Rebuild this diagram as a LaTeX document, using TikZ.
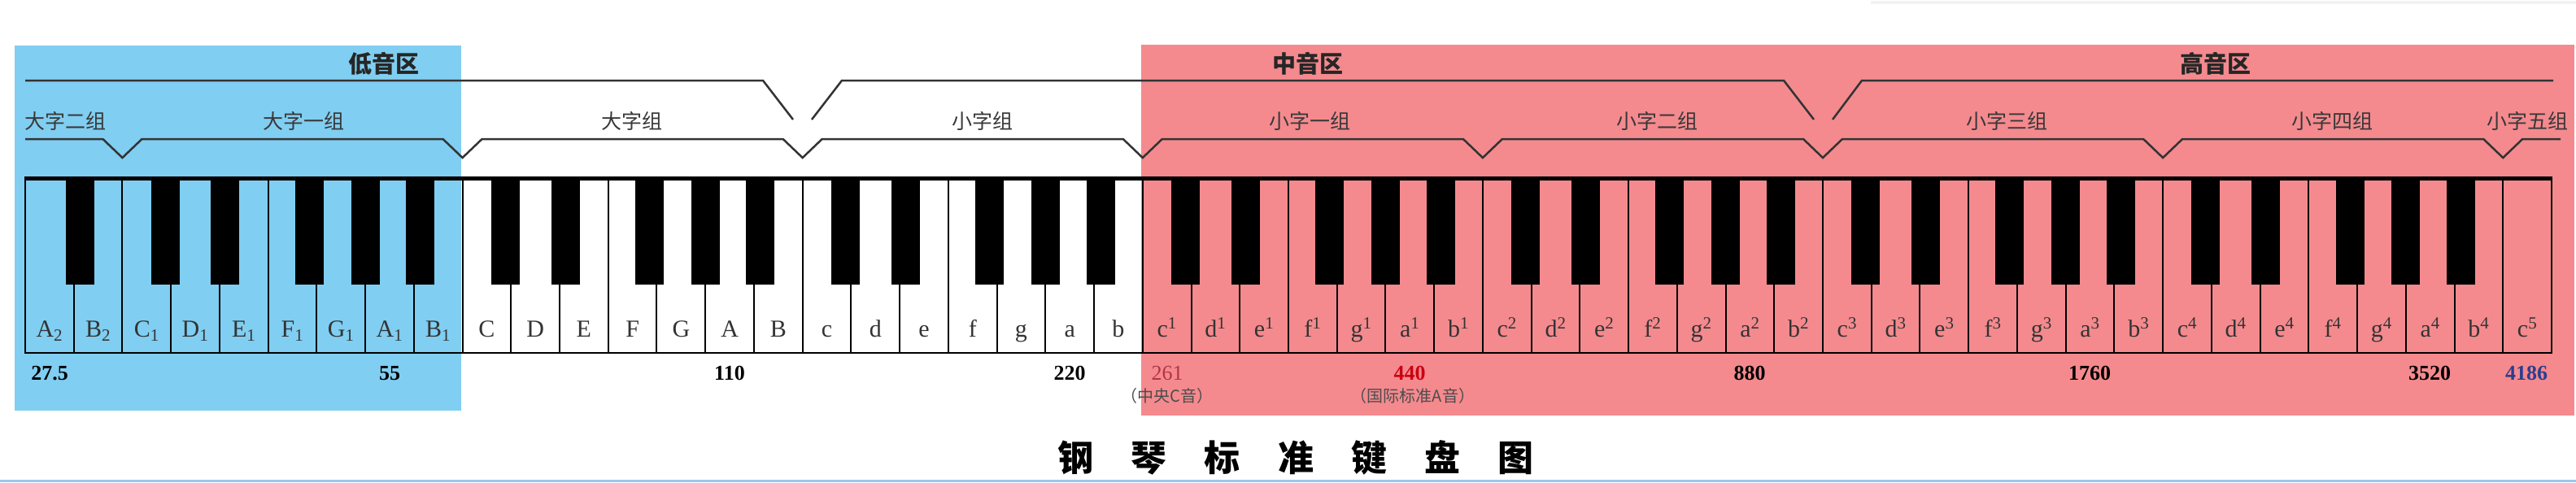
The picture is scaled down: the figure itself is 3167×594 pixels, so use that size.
\documentclass[tikz,border=0pt]{standalone}
\usepackage{fontspec}
\setmainfont{Liberation Serif}
\newfontfamily\cjk{Noto Sans CJK SC}
\definecolor{bassblue}{RGB}{128,206,241}
\definecolor{midpink}{RGB}{244,138,142}
\definecolor{midc}{RGB}{178,52,72}
\definecolor{concertA}{RGB}{204,0,16}
\definecolor{topc}{RGB}{46,61,143}
\definecolor{edgeblue}{RGB}{160,196,240}
\begin{document}
\begin{tikzpicture}[x=1pt,y=-1pt,
        zone/.style={font=\cjk\bfseries\fontsize{29}{29}\selectfont,text=black!85},
        grp/.style={font=\cjk\fontsize{25}{25}\selectfont,text=black!78},
        note/.style={anchor=base,font=\fontsize{30}{30}\selectfont,text=black!80},
        freq/.style={anchor=base,font=\bfseries\fontsize{26}{26}\selectfont},
        hint/.style={font=\cjk\fontsize{20}{20}\selectfont,text=black!70},
        brace/.style={line width=2.5pt,draw=black!80}]
    \useasboundingbox (0,0) rectangle (3167,594);
    % ranges
    \fill[bassblue] (18,56) rectangle (567,505);
    \fill[midpink] (1403,55) rectangle (3165,511);
    \draw[black!5,line width=4pt] (2300,3) -- (3167,3);
    \draw[edgeblue,line width=3pt] (0,591) -- (3167,591);
    % keys
    \foreach \i in {1,...,51}
        \draw[line width=2pt] ({31+\i*59.73},218) -- ++(0,216);
    \draw[line width=2.5pt] (31,218) rectangle (3137,434);
    \draw[line width=5pt] (31,219.5) -- (3137,219.5);
    \fill ({31+1*59.73+8-17.5},218) rectangle +(35,132);
    \foreach \k in {2,9,...,44}
        \foreach \b/\o in {1/-7,2/7,4/-9,5/0,6/8}
            \fill ({31+(\k+\b)*59.73+\o-17.5},218) rectangle +(35,132);
    % note names
    \foreach \n [count=\i from 0] in {A\textsubscript{2},B\textsubscript{2},
            C\textsubscript{1},D\textsubscript{1},E\textsubscript{1},F\textsubscript{1},G\textsubscript{1},A\textsubscript{1},B\textsubscript{1},
            C,D,E,F,G,A,B,c,d,e,f,g,a,b,
            c\textsuperscript{1},d\textsuperscript{1},e\textsuperscript{1},f\textsuperscript{1},g\textsuperscript{1},a\textsuperscript{1},b\textsuperscript{1},
            c\textsuperscript{2},d\textsuperscript{2},e\textsuperscript{2},f\textsuperscript{2},g\textsuperscript{2},a\textsuperscript{2},b\textsuperscript{2},
            c\textsuperscript{3},d\textsuperscript{3},e\textsuperscript{3},f\textsuperscript{3},g\textsuperscript{3},a\textsuperscript{3},b\textsuperscript{3},
            c\textsuperscript{4},d\textsuperscript{4},e\textsuperscript{4},f\textsuperscript{4},g\textsuperscript{4},a\textsuperscript{4},b\textsuperscript{4},
            c\textsuperscript{5}}
        \node[note] (key\i) at ({31+(\i+0.5)*59.73},414) {\n};
    % frequencies
    \node[freq] (hz1) at (61,467) {27.5};
    \node[freq] (hz2) at (479,467) {55};
    \node[freq] (hz3) at (897,467) {110};
    \node[freq] (hz4) at (1315,467) {220};
    \node[freq,font=\fontsize{26}{26}\selectfont,text=midc] (hz5) at (1435,467) {261};
    \node[freq,text=concertA] (hz6) at (1733,467) {440};
    \node[freq] (hz7) at (2151,467) {880};
    \node[freq] (hz8) at (2569,467) {1760};
    \node[freq] (hz9) at (2987,467) {3520};
    \node[freq,text=topc] (hz10) at (3106,467) {4186};
    \node[hint] (midcnote) at (1435,487) {（中央C音）};
    \node[hint] (anote) at (1737,487) {（国际标准A音）};
    % brackets
    \draw[brace] (31,99) -- (938,99) -- (975,147);
    \draw[brace] (998,147) -- (1035,99) -- (2193,99) -- (2230,147);
    \draw[brace] (2253,147) -- (2289,99) -- (3139,99);
    \draw[brace] (31,171)
        \foreach \b in {2,9,16,23,30,37,44,51} {
            -- ({31+\b*59.73-24},171) -- ({31+\b*59.73},194) -- ({31+\b*59.73+24},171)
        } -- (3148,171);
    \node[zone] (low) at (472,78) {低音区};
    \node[zone] (mid) at (1608,78) {中音区};
    \node[zone] (high) at (2724,78) {高音区};
    \node[grp] (g1) at (80,149) {大字二组};
    \node[grp] (g2) at (373,149) {大字一组};
    \node[grp] (g3) at (777,149) {大字组};
    \node[grp] (g4) at (1208,149) {小字组};
    \node[grp] (g5) at (1610,149) {小字一组};
    \node[grp] (g6) at (2037,149) {小字二组};
    \node[grp] (g7) at (2467,149) {小字三组};
    \node[grp] (g8) at (2867,149) {小字四组};
    \node[grp] (g9) at (3107,149) {小字五组};
    % title
    \node[font=\cjk\bfseries\fontsize{44}{44}\selectfont] (title) at (1593,563)
        {钢\hspace{1.05em}琴\hspace{1.05em}标\hspace{1.05em}准\hspace{1.05em}键\hspace{1.05em}盘\hspace{1.05em}图};
\end{tikzpicture}
\end{document}
